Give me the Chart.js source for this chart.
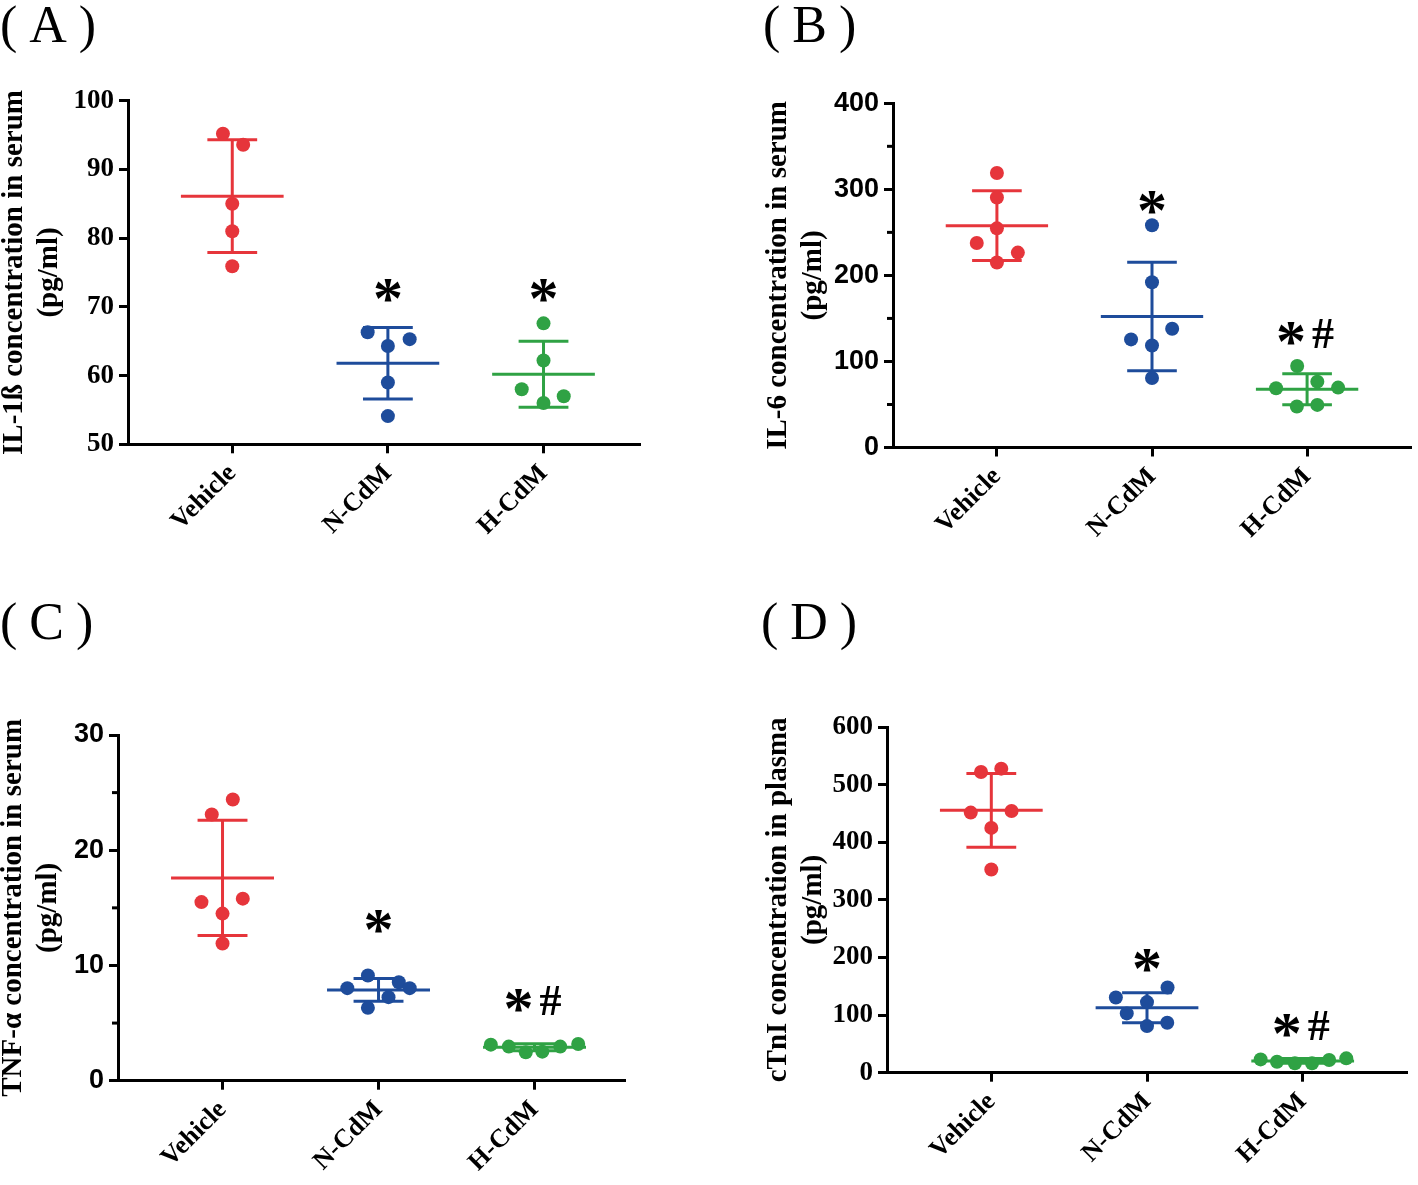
<!DOCTYPE html>
<html lang="en">
<head>
    <meta charset="UTF-8">
    <title>Serum and plasma markers</title>
    <script src="https://cdn.jsdelivr.net/npm/chart.js"></script>
    <style>
        body { margin: 0; background: #fff; overflow: hidden; width: 1418px; height: 1185px; position: relative; }
        canvas { position: absolute; }
        .tag { position: absolute; font: 52px "Liberation Serif", serif; letter-spacing: 12px; line-height: 1; color: #000; }
    </style>
</head>
<body>
    <div class="tag" style="left:0px; top:-1px">(A)</div>
    <div class="tag" style="left:763px; top:-1px">(B)</div>
    <div class="tag" style="left:0px; top:596px">(C)</div>
    <div class="tag" style="left:761px; top:596px">(D)</div>
    <canvas id="pa" width="700" height="500" style="left:0px; top:55px"></canvas>
    <canvas id="pb" width="658" height="500" style="left:760px; top:55px"></canvas>
    <canvas id="pc" width="700" height="535" style="left:0px; top:650px"></canvas>
    <canvas id="pd" width="658" height="535" style="left:760px; top:650px"></canvas>
    <script>
        const groups = ['Vehicle', 'N-CdM', 'H-CdM'];
        const colors = ['#e6353b', '#1e4c9b', '#2fa244'];

        // (A) IL-1ß, points per group + horizontal jitter (in category units)
        const il1bVehicle = [95.2, 93.6, 85.0, 81.0, 75.9];
        const il1bVehicleX = [-0.06, 0.07, 0, 0, 0];
        const il1bNCdM = [66.3, 65.3, 64.3, 59.0, 54.1];
        const il1bNCdMX = [-0.13, 0.14, 0, 0, 0];
        const il1bHCdM = [67.6, 62.2, 58.0, 57.0, 56.0];
        const il1bHCdMX = [0, 0, -0.14, 0.13, 0];
        const il1bMean = [86.1, 61.8, 60.2];
        const il1bSD = [8.2, 5.2, 4.8];
        const il1bMarks = ['', '*', '*'];
        const il1bMarkAt = [0, 72.4, 72.4];

        // (B) IL-6
        const il6Vehicle = [319, 290.6, 254.7, 237.7, 226.5, 215];
        const il6VehicleX = [0, 0, 0, -0.13, 0.135, 0];
        const il6NCdM = [258.2, 192.1, 138, 125.6, 118.6, 80.8];
        const il6NCdMX = [0, 0, 0.13, -0.135, 0, 0];
        const il6HCdM = [94.7, 76.5, 68.8, 69.6, 47.6, 49.5];
        const il6HCdMX = [-0.064, 0.066, -0.2, 0.2, -0.066, 0.066];
        const il6Mean = [257.8, 152.3, 67.6];
        const il6SD = [40.5, 63.0, 18.0];
        const il6Marks = ['', '*', '*#'];
        const il6MarkAt = [0, 285, 132.6];

        // (C) TNF-α
        const tnfVehicle = [24.4, 23.1, 15.8, 15.5, 14.5, 11.9];
        const tnfVehicleX = [0.066, -0.069, 0.13, -0.135, 0, 0];
        const tnfNCdM = [9.13, 8.55, 8.03, 8.03, 7.25, 6.32];
        const tnfNCdMX = [-0.068, 0.13, -0.2, 0.2, 0.064, -0.068];
        const tnfHCdM = [3.13, 2.96, 2.46, 2.52, 2.96, 3.19];
        const tnfHCdMX = [-0.28, -0.165, -0.056, 0.05, 0.165, 0.28];
        const tnfMean = [17.6, 7.88, 2.9];
        const tnfSD = [5.0, 0.98, 0.3];
        const tnfMarks = ['', '*', '*#'];
        const tnfMarkAt = [0, 13.8, 7.0];

        // (D) cTnI
        const ctniVehicle = [522, 527.7, 451.4, 454.3, 424.9, 352.6];
        const ctniVehicleX = [-0.066, 0.064, -0.132, 0.13, 0, 0];
        const ctniNCdM = [148, 130.6, 122.5, 102.9, 86.7, 80.9];
        const ctniNCdMX = [0.132, -0.2, 0, -0.13, 0.13, 0];
        const ctniHCdM = [23.1, 19.1, 16.2, 16.2, 22, 24.9];
        const ctniHCdMX = [-0.27, -0.165, -0.05, 0.06, 0.17, 0.28];
        const ctniMean = [455.5, 112.7, 20.5];
        const ctniSD = [64, 26, 4];
        const ctniMarks = ['', '*', '*#'];
        const ctniMarkAt = [0, 195, 82.7];

        // significance marks drawn at data positions
        const markPlugin = {
            id: 'marks',
            afterDatasetsDraw(chart, args, opts) {
                const { ctx, scales: { x, y } } = chart;
                ctx.save();
                ctx.fillStyle = '#000';
                ctx.textAlign = 'center';
                ctx.textBaseline = 'alphabetic';
                opts.text.forEach((t, i) => {
                    if (!t) return;
                    const chars = t.split('');
                    const cx = x.getPixelForValue(i + 1);
                    const cy = y.getPixelForValue(opts.at[i]);
                    chars.forEach((ch, k) => {
                        ctx.font = ch === '*' ? 'bold 60px "Liberation Serif"' : 'bold 44px "Liberation Serif"';
                        const px = cx + (k - (chars.length - 1) / 2) * 32;
                        const m = ctx.measureText(ch);
                        const off = (m.actualBoundingBoxAscent - m.actualBoundingBoxDescent) / 2;
                        ctx.fillText(ch, px, cy + off);
                    });
                });
                ctx.restore();
            }
        };

        // short unlabeled ticks on the y axis
        const minorPlugin = {
            id: 'minor',
            afterDraw(chart, args, opts) {
                if (!opts.values) return;
                const { ctx, chartArea, scales: { y } } = chart;
                ctx.save();
                ctx.strokeStyle = '#000';
                ctx.lineWidth = 3;
                opts.values.forEach(v => {
                    const py = y.getPixelForValue(v);
                    ctx.beginPath();
                    ctx.moveTo(chartArea.left - 6, py);
                    ctx.lineTo(chartArea.left, py);
                    ctx.stroke();
                });
                ctx.restore();
            }
        };

        function buildDatasets(values, jitter, means, sds) {
            const ds = [];
            groups.forEach((g, i) => {
                const c = i + 1, col = colors[i], m = means[i], s = sds[i];
                const seg = pts => ({ data: pts, showLine: true, borderColor: col, borderWidth: 3, pointRadius: 0, order: 2 });
                ds.push(seg([{ x: c - 0.33, y: m }, { x: c + 0.33, y: m }]));
                ds.push(seg([{ x: c, y: m - s }, { x: c, y: m + s }]));
                ds.push(seg([{ x: c - 0.16, y: m + s }, { x: c + 0.16, y: m + s }]));
                ds.push(seg([{ x: c - 0.16, y: m - s }, { x: c + 0.16, y: m - s }]));
                ds.push({
                    label: g,
                    data: values[i].map((v, k) => ({ x: c + jitter[i][k], y: v })),
                    backgroundColor: col,
                    borderWidth: 0,
                    pointRadius: 7,
                    order: 1
                });
            });
            return ds;
        }

        function makePanel(id, p) {
            new Chart(document.getElementById(id), {
                type: 'scatter',
                data: { datasets: buildDatasets(p.values, p.jitter, p.mean, p.sd) },
                plugins: [markPlugin, minorPlugin],
                options: {
                    responsive: false,
                    animation: false,
                    layout: { padding: p.padding },
                    scales: {
                        x: {
                            type: 'linear',
                            min: 0.33,
                            max: p.xMax,
                            afterBuildTicks: s => { s.ticks = groups.map((g, i) => ({ value: i + 1 })); },
                            afterFit: s => { s.height = 90; },
                            ticks: {
                                callback: v => groups[v - 1],
                                minRotation: 45,
                                maxRotation: 45,
                                padding: 5,
                                color: '#000',
                                font: { family: 'Liberation Serif', weight: 'bold', size: 26 }
                            },
                            grid: { drawOnChartArea: false, tickLength: 9, tickWidth: 3, tickColor: '#000' },
                            border: { color: '#000', width: 3 }
                        },
                        y: {
                            min: p.yMin,
                            max: p.yMax,
                            afterFit: s => { s.width = p.yWidth; },
                            ticks: {
                                stepSize: p.step,
                                padding: 5,
                                color: '#000',
                                font: p.tickFont
                            },
                            grid: { drawOnChartArea: false, tickLength: 9, tickWidth: 3, tickColor: '#000' },
                            border: { color: '#000', width: 3 },
                            title: {
                                display: true,
                                text: p.title,
                                color: '#000',
                                padding: { top: p.titlePad, bottom: 0 },
                                font: { family: 'Liberation Serif', weight: 'bold', size: 29, lineHeight: 1.2 }
                            }
                        }
                    },
                    plugins: {
                        legend: { display: false },
                        tooltip: { enabled: false },
                        marks: { text: p.marks, at: p.markAt },
                        minor: { values: p.minor }
                    }
                }
            });
        }

        const serif = { family: 'Liberation Serif', weight: 'bold', size: 27 };
        const sans = { family: 'Liberation Sans', weight: 'bold', size: 27 };

        makePanel('pa', {
            values: [il1bVehicle, il1bNCdM, il1bHCdM],
            jitter: [il1bVehicleX, il1bNCdMX, il1bHCdMX],
            mean: il1bMean, sd: il1bSD, marks: il1bMarks, markAt: il1bMarkAt,
            yMin: 50, yMax: 100, step: 10, tickFont: serif, xMax: 3.62,
            title: ['IL-1ß concentration in serum', '(pg/ml)'], titlePad: -3,
            yWidth: 128, padding: { left: 0, top: 45.7, right: 60, bottom: 20.7 }
        });

        makePanel('pb', {
            values: [il6Vehicle, il6NCdM, il6HCdM],
            jitter: [il6VehicleX, il6NCdMX, il6HCdMX],
            mean: il6Mean, sd: il6SD, marks: il6Marks, markAt: il6MarkAt,
            yMin: 0, yMax: 400, step: 100, tickFont: sans, xMax: 3.67, minor: [50, 150, 250, 350],
            title: ['IL-6 concentration in serum', '(pg/ml)'], titlePad: 1,
            yWidth: 133, padding: { left: 0, top: 48.3, right: 3, bottom: 17.5 }
        });

        makePanel('pc', {
            values: [tnfVehicle, tnfNCdM, tnfHCdM],
            jitter: [tnfVehicleX, tnfNCdMX, tnfHCdMX],
            mean: tnfMean, sd: tnfSD, marks: tnfMarks, markAt: tnfMarkAt,
            yMin: 0, yMax: 30, step: 10, tickFont: sans, xMax: 3.58, minor: [5, 15, 25],
            title: ['TNF-α concentration in serum', '(pg/ml)'], titlePad: -4,
            yWidth: 118, padding: { left: 0, top: 85, right: 75, bottom: 14.3 }
        });

        makePanel('pd', {
            values: [ctniVehicle, ctniNCdM, ctniHCdM],
            jitter: [ctniVehicleX, ctniNCdMX, ctniHCdMX],
            mean: ctniMean, sd: ctniSD, marks: ctniMarks, markAt: ctniMarkAt,
            yMin: 0, yMax: 600, step: 100, tickFont: serif, xMax: 3.67,
            title: ['cTnI concentration in plasma', '(pg/ml)'], titlePad: 1,
            yWidth: 127, padding: { left: 0, top: 77, right: 11, bottom: 22.3 }
        });
    </script>
</body>
</html>
